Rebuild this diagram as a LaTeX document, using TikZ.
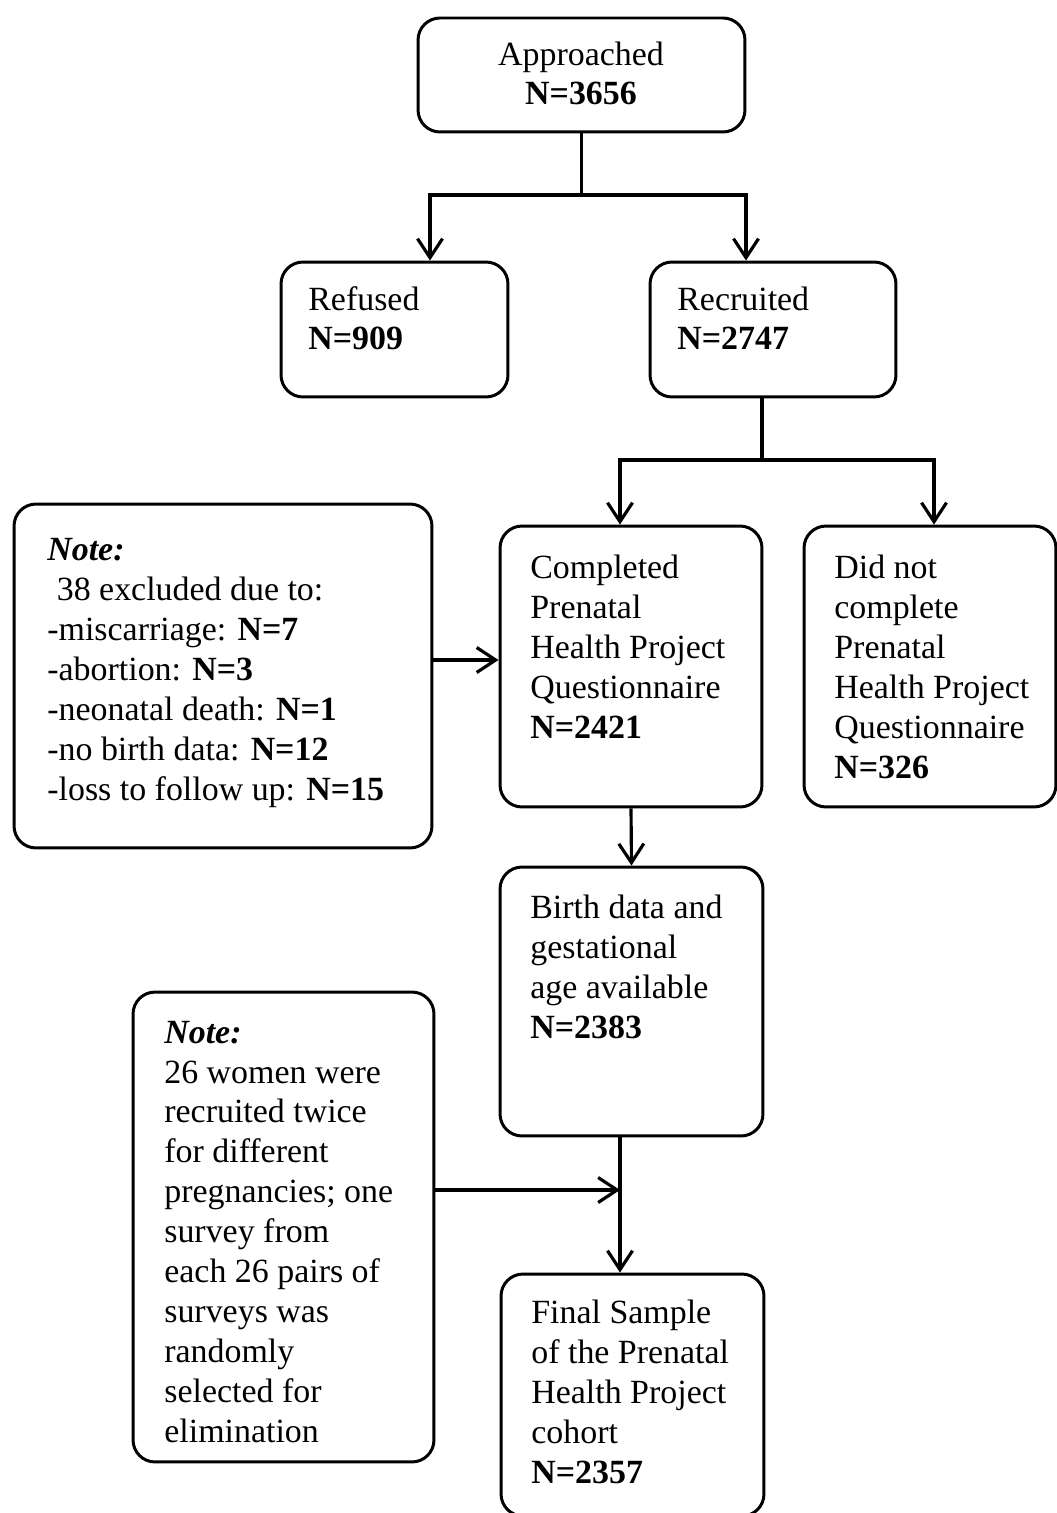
\documentclass[tikz,border=0pt]{standalone}
\usepackage{fontspec}
\setmainfont{Liberation Serif}
\usetikzlibrary{arrows.meta}
\begin{document}
\begin{tikzpicture}[x=0.02cm,y=-0.02cm,
  box/.style={draw, line width=1.7pt, rounded corners=0.44cm, inner sep=0pt},
  txt/.style={font=\fontsize{19.3}{22.7}\selectfont, align=left, inner sep=0pt},
  conn/.style={line width=1.8pt},
  arr/.style={conn, -{Straight Barb[length=0.38cm,width=0.5cm]}}]
\useasboundingbox (0,0) rectangle (1057,1513);
% boxes
\node[box, minimum width=6.54cm, minimum height=2.28cm] (app) at (581.5,75) {};
\node[box, minimum width=4.54cm, minimum height=2.70cm] (ref) at (394.5,329.5) {};
\node[box, minimum width=4.92cm, minimum height=2.70cm] (rec) at (773,329.5) {};
\node[box, minimum width=8.36cm, minimum height=6.88cm] (note1) at (223,676) {};
\node[box, minimum width=5.24cm, minimum height=5.62cm] (comp) at (631,666.5) {};
\node[box, minimum width=5.04cm, minimum height=5.62cm] (dnc) at (930,666.5) {};
\node[box, minimum width=5.26cm, minimum height=5.38cm] (birth) at (631.5,1001.5) {};
\node[box, minimum width=6.02cm, minimum height=9.40cm] (note2) at (283.5,1227) {};
\node[box, minimum width=5.26cm, minimum height=4.84cm] (final) at (632.5,1395) {};
% texts (anchored at the baseline of their last line)
\node[txt, align=center, anchor=base] (tapp) at (581,105) {Approached\\\textbf{N=3656}};
\node[txt, anchor=base west] (tref) at (308,350) {Refused\\\textbf{N=909}};
\node[txt, anchor=base west] (trec) at (677,350) {Recruited\\\textbf{N=2747}};
\node[txt, anchor=base west] (tnote1) at (47,800) {\textbf{\textit{Note:}}\\
\hspace*{0.19cm}38 excluded due to:\\
-miscarriage: \textbf{N=7}\\
-abortion: \textbf{N=3}\\
-neonatal death: \textbf{N=1}\\
-no birth data: \textbf{N=12}\\
-loss to follow up: \textbf{N=15}};
\node[txt, anchor=base west] (tcomp) at (530,738) {Completed\\Prenatal\\Health Project\\Questionnaire\\\textbf{N=2421}};
\node[txt, anchor=base west] (tdnc) at (834,778) {Did not\\complete\\Prenatal\\Health Project\\Questionnaire\\\textbf{N=326}};
\node[txt, anchor=base west] (tbirth) at (530,1038) {Birth data and\\gestational\\age available\\\textbf{N=2383}};
\node[txt, anchor=base west] (tnote2) at (164,1442) {\textbf{\textit{Note:}}\\26 women were\\recruited twice\\for different\\pregnancies; one\\survey from\\each 26 pairs of\\surveys was\\randomly\\selected for\\elimination};
\node[txt, anchor=base west] (tfinal) at (531,1483) {Final Sample\\of the Prenatal\\Health Project\\cohort\\\textbf{N=2357}};
% connectors
\coordinate (j1) at (581.5,195);
\coordinate (a1) at (430,195);
\coordinate (a2) at (746,195);
\draw[conn] (app.south) -- (j1);
\draw[arr] (j1) -- (a1) -- (a1 |- ref.north);
\draw[arr] (j1) -- (a2) -- (a2 |- rec.north);
\coordinate (j2) at (762,460);
\coordinate (b1) at (620,460);
\coordinate (b2) at (934,460);
\draw[conn] (j2 |- rec.south) -- (j2);
\draw[arr] (j2) -- (b1) -- (b1 |- comp.north);
\draw[arr] (j2) -- (b2) -- (b2 |- dnc.north);
\coordinate (n1a) at (432,660);
\draw[arr] (n1a) -- (n1a -| comp.west);
\draw[arr] (comp.south) -- (birth.north);
\coordinate (j3) at (620,1190);
\draw[conn] (j3 |- birth.south) -- (j3);
\draw[arr] (j3) -- (j3 |- final.north);
\draw[arr] (note2.east |- j3) -- (j3);
\end{tikzpicture}
\end{document}
